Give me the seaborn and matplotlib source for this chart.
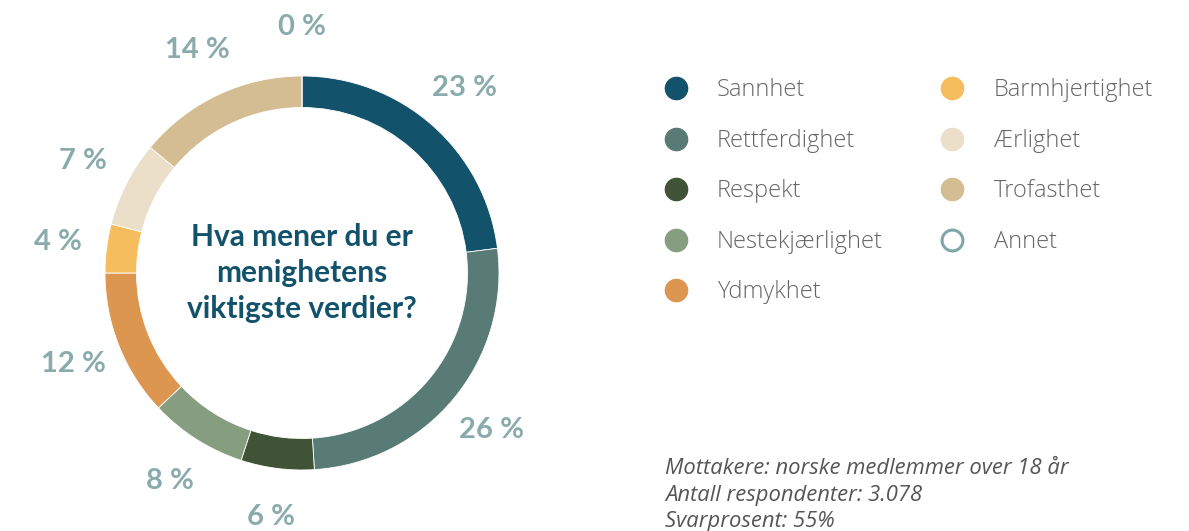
import matplotlib
matplotlib.use("Agg")
import matplotlib.pyplot as plt
from matplotlib.lines import Line2D
import seaborn as sns

# Survey answers, percent, clockwise from 12 o'clock
categories = ["Sannhet", "Rettferdighet", "Respekt", "Nestekjærlighet", "Ydmykhet",
              "Barmhjertighet", "Ærlighet", "Trofasthet", "Annet"]
values = [23, 26, 6, 8, 12, 4, 7, 14, 0]
colors = ["#12536b", "#587b76", "#415337", "#879d7f", "#dc9650",
          "#f6bd5f", "#ebdfca", "#d5bd93", "#ffffff"]

question = "Hva mener du er\nmenighetens\nviktigste verdier?"
footnote = ["Mottakere: norske medlemmer over 18 år",
            "Antall respondenter: 3.078",
            "Svarprosent: 55%"]

sns.set_theme(style="white")
plt.rcParams["font.family"] = ["Lato", "DejaVu Sans"]

W, H = 1189, 531
fig = plt.figure(figsize=(W / 100, H / 100), dpi=100)

# donut axes: 1 data unit = 197 px, centred at (302, 273)
R = 197
half = 1.6
cx, cy = 302, H - 273
ax = fig.add_axes([(cx - half * R) / W, (cy - half * R) / H,
                   2 * half * R / W, 2 * half * R / H])

palette = sns.color_palette(colors)
wedges, texts = ax.pie(
    values,
    colors=palette,
    labels=[f"{v} %" for v in values],
    labeldistance=1.25,
    startangle=90,
    counterclock=False,
    wedgeprops=dict(width=0.16, edgecolor="white", linewidth=0.6),
    textprops=dict(color="#8aabab", fontsize=21, fontweight="bold"),
)
for t in texts:
    t.set_ha("center")
    t.set_va("center")
ax.set_xlim(-half, half)
ax.set_ylim(-half, half)
ax.set_aspect("equal")
ax.axis("off")

ax.text(0, 0, question, ha="center", va="center", fontsize=21.5,
        fontweight="bold", color="#12536b", linespacing=1.35)

# legend
handles = []
for cat, col in zip(categories, colors):
    if cat == "Annet":
        h = Line2D([], [], marker="o", linestyle="none", markersize=15,
                   markerfacecolor="white", markeredgecolor="#7fa7a7",
                   markeredgewidth=2.2, label=cat)
    else:
        h = Line2D([], [], marker="o", linestyle="none", markersize=16,
                   markerfacecolor=col, markeredgecolor=col, label=cat)
    handles.append(h)

leg = fig.legend(handles=handles, ncol=2, loc="upper left",
                 bbox_to_anchor=(652 / W, 1 - 69 / H), frameon=False,
                 prop=dict(family="Open Sans", size=17, weight="light"),
                 labelcolor="#666666", handlelength=1.2, handletextpad=1.15,
                 labelspacing=1.12, columnspacing=2.35, borderaxespad=0)

for i, line in enumerate(footnote):
    fig.text(665 / W, 1 - (469 + 26.5 * i) / H, line, ha="left", va="center",
             fontsize=15.8, style="italic", color="#555555", family="Open Sans")

fig.savefig("out.png", dpi=100)
